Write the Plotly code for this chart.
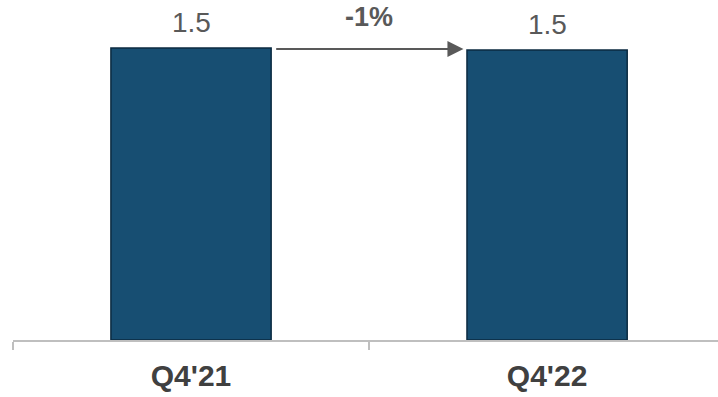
import plotly.graph_objects as go

categories = ["Q4'21", "Q4'22"]
values = [1.52, 1.51]
change_label = "-1%"

FONT = "Liberation Sans, Arial, sans-serif"
GRAY = "#595959"
BAR_W = 0.45

fig = go.Figure()
fig.add_trace(go.Bar(
    x=categories, y=values,
    marker=dict(color="#174E72", line=dict(color="#0B2A40", width=1.5)),
    width=BAR_W,
))

# value labels
for i, v in enumerate(values):
    fig.add_annotation(
        x=i, xref="x", y=v, yref="y", text=f"{v:.1f}", showarrow=False,
        yanchor="bottom", yshift=8,
        font=dict(family=FONT, size=28, color=GRAY),
    )

# arrow between the bar tops
fig.add_annotation(
    x=1 - BAR_W / 2 - 0.01, xref="x", y=values[0] - 0.005, yref="y",
    ax=BAR_W / 2 + 0.01, axref="x", ay=values[0] - 0.005, ayref="y",
    text="", showarrow=True,
    arrowhead=2, arrowsize=1.6, arrowwidth=2, arrowcolor=GRAY,
    standoff=0, startstandoff=0,
)
fig.add_annotation(
    x=0.5, xref="x", y=values[0], yref="y",
    text=f"<b>{change_label}</b>", showarrow=False,
    font=dict(family=FONT, size=27, color=GRAY),
    yanchor="bottom", yshift=14,
)

fig.update_layout(
    width=718, height=397,
    margin=dict(l=13, r=0, t=0, b=57),
    plot_bgcolor="white", paper_bgcolor="white",
    showlegend=False,
    xaxis=dict(
        type="category", range=[-0.5, 1.48],
        tickson="boundaries", ticks="outside", ticklen=8, tickwidth=1.5,
        tickcolor="#BFBFBF", showline=True, linecolor="#BFBFBF", linewidth=2,
        tickfont=dict(family=FONT, size=30, color="#404040", weight="bold"),
        ticklabelstandoff=8,
        showgrid=False,
    ),
    yaxis=dict(range=[0, 1.77], visible=False, showgrid=False),
)

fig.write_html("out.html")
